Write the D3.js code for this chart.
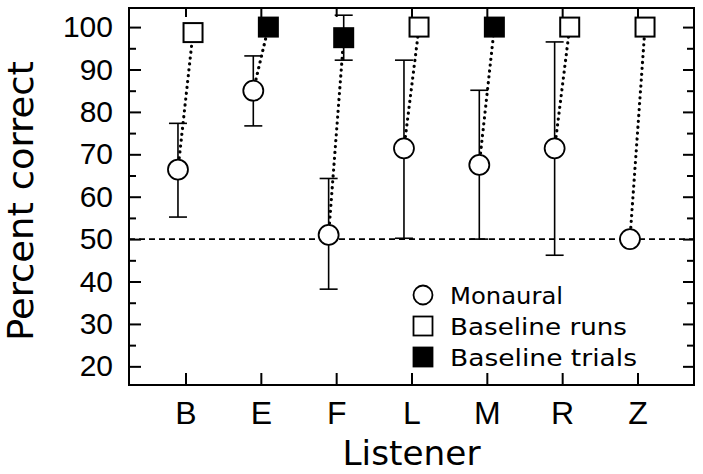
<!DOCTYPE html>
<html>
<head>
<meta charset="utf-8">
<script src="https://cdn.jsdelivr.net/npm/d3@7"></script>
<style>
  body { margin: 0; background: #fff; }
  svg { display: block; font-family: 'DejaVu Sans', sans-serif; }
</style>
</head>
<body>
<div id="chart"></div>
<script>
// Dados
const listeners = ['B', 'E', 'F', 'L', 'M', 'R', 'Z'];
const monaural = [66.4, 85, 51, 71.4, 67.5, 71.4, 50];
const monauralLo = [55.2, 76.7, 38.2, 50.2, 50.0, 46.2, null];
const monauralHi = [77.3, 93.2, 64.3, 92.2, 85.1, 96.5, null];
const baseline = [98.7, 100, 97.5, 100, 100, 100, 100];
const baselineType = ['runs', 'trials', 'trials', 'runs', 'trials', 'runs', 'runs'];
const baselineLo = [null, null, 92.2, null, null, null, null];
const baselineHi = [null, null, 102.8, null, null, null, null];
const yMajor = [20, 30, 40, 50, 60, 70, 80, 90, 100];
const yMinor = [25, 35, 45, 55, 65, 75, 85, 95];
const chanceLevel = 50;
const legendItems = [
  { label: 'Monaural', shape: 'circle', len: 113 },
  { label: 'Baseline runs', shape: 'open', len: 177 },
  { label: 'Baseline trials', shape: 'filled', len: 187 }
];

const W = 703, H = 474;
const plotL = 129, plotR = 694, plotT = 8, plotB = 385;

const svg = d3.select('#chart').append('svg')
  .attr('width', W)
  .attr('height', H);

const x = d3.scaleLinear().domain([-0.75, 6.75]).range([plotL, plotR]);
const y = d3.scaleLinear().domain([15.6, 104.5]).range([plotB, plotT]);
const off = 0.1; // deslocamento horizontal dos marcadores

function styleAxis(g) {
  g.select('.domain').remove();
  g.selectAll('.tick line').attr('stroke', '#000').attr('stroke-width', 2);
}

// Eixo esquerdo (ticks para dentro)
svg.append('g')
  .attr('transform', `translate(${plotL},0)`)
  .call(d3.axisLeft(y).tickValues(yMajor).tickSize(-12).tickPadding(16))
  .call(styleAxis)
  .call(g => g.selectAll('text')
    .attr('fill', '#000')
    .style('font-size', '30px'));

svg.append('g')
  .attr('transform', `translate(${plotL},0)`)
  .call(d3.axisLeft(y).tickValues(yMinor).tickSize(-7).tickFormat(''))
  .call(styleAxis);

// Eixo direito
svg.append('g')
  .attr('transform', `translate(${plotR},0)`)
  .call(d3.axisRight(y).tickValues(yMajor).tickSize(-11).tickFormat(''))
  .call(styleAxis);

svg.append('g')
  .attr('transform', `translate(${plotR},0)`)
  .call(d3.axisRight(y).tickValues(yMinor).tickSize(-7).tickFormat(''))
  .call(styleAxis);

// Eixo inferior
svg.append('g')
  .attr('transform', `translate(0,${plotB})`)
  .call(d3.axisBottom(x).tickValues(d3.range(listeners.length)).tickSize(-12)
    .tickFormat(i => listeners[i]))
  .call(styleAxis)
  .call(g => g.selectAll('text')
    .attr('fill', '#000')
    .attr('dy', null)
    .attr('y', 39)
    .style('font-size', '32px'));

// Eixo superior
svg.append('g')
  .attr('transform', `translate(0,${plotT})`)
  .call(d3.axisTop(x).tickValues(d3.range(listeners.length)).tickSize(-9).tickFormat(''))
  .call(styleAxis);

// Moldura
svg.append('rect')
  .attr('x', plotL)
  .attr('y', plotT)
  .attr('width', plotR - plotL)
  .attr('height', plotB - plotT)
  .attr('fill', 'none')
  .attr('stroke', '#000')
  .attr('stroke-width', 2);

// Linha de chance
svg.append('line')
  .attr('x1', plotL)
  .attr('x2', plotR)
  .attr('y1', y(chanceLevel))
  .attr('y2', y(chanceLevel))
  .attr('stroke', '#000')
  .attr('stroke-width', 1.6)
  .attr('stroke-dasharray', '6,4');

const data = listeners.map((name, i) => ({
  name, i,
  mon: monaural[i], lo: monauralLo[i], hi: monauralHi[i],
  base: baseline[i], type: baselineType[i], bLo: baselineLo[i], bHi: baselineHi[i]
}));

// Barras de erro
function errorBar(cx, lo, hi) {
  const cap = 9;
  svg.append('line')
    .attr('x1', cx).attr('x2', cx)
    .attr('y1', y(lo)).attr('y2', y(hi))
    .attr('stroke', '#000').attr('stroke-width', 1.6);
  [lo, hi].forEach(v => {
    svg.append('line')
      .attr('x1', cx - cap).attr('x2', cx + cap)
      .attr('y1', y(v)).attr('y2', y(v))
      .attr('stroke', '#000').attr('stroke-width', 1.6);
  });
}

data.forEach(d => {
  if (d.lo != null) errorBar(x(d.i - off), d.lo, d.hi);
  if (d.bLo != null) errorBar(x(d.i + off), d.bLo, d.bHi);
});

// Linhas pontilhadas
svg.selectAll('.link')
  .data(data)
  .enter()
  .append('line')
  .attr('class', 'link')
  .attr('x1', d => x(d.i - off))
  .attr('y1', d => y(d.mon))
  .attr('x2', d => x(d.i + off))
  .attr('y2', d => y(d.base))
  .attr('stroke', '#000')
  .attr('stroke-width', 3.2)
  .attr('stroke-linecap', 'round')
  .attr('stroke-dasharray', '0.1,5.8');

// Círculos (monaural)
svg.selectAll('.mon')
  .data(data)
  .enter()
  .append('circle')
  .attr('class', 'mon')
  .attr('cx', d => x(d.i - off))
  .attr('cy', d => y(d.mon))
  .attr('r', 10)
  .attr('fill', '#fff')
  .attr('stroke', '#000')
  .attr('stroke-width', 1.8);

// Quadrados (baseline)
const sq = 19;
svg.selectAll('.base')
  .data(data)
  .enter()
  .append('rect')
  .attr('class', 'base')
  .attr('x', d => x(d.i + off) - sq / 2)
  .attr('y', d => y(d.base) - sq / 2)
  .attr('width', sq)
  .attr('height', sq)
  .attr('fill', d => d.type === 'trials' ? '#000' : '#fff')
  .attr('stroke', '#000')
  .attr('stroke-width', 2);

// Legenda
const legend = svg.append('g').attr('transform', 'translate(423,295)');
legendItems.forEach((item, k) => {
  const gy = k * 31;
  if (item.shape === 'circle') {
    legend.append('circle')
      .attr('cx', 0).attr('cy', gy).attr('r', 9.5)
      .attr('fill', '#fff').attr('stroke', '#000').attr('stroke-width', 1.8);
  } else {
    legend.append('rect')
      .attr('x', -9.5).attr('y', gy - 9.5)
      .attr('width', 19).attr('height', 19)
      .attr('fill', item.shape === 'filled' ? '#000' : '#fff')
      .attr('stroke', '#000').attr('stroke-width', 1.8);
  }
  legend.append('text')
    .attr('x', 27)
    .attr('y', gy + 9)
    .attr('textLength', item.len)
    .attr('lengthAdjust', 'spacingAndGlyphs')
    .style('font-size', '23px')
    .text(item.label);
});

// Títulos dos eixos
svg.append('text')
  .attr('x', (plotL + plotR) / 2)
  .attr('y', 465)
  .attr('text-anchor', 'middle')
  .attr('textLength', 138)
  .attr('lengthAdjust', 'spacingAndGlyphs')
  .style('font-size', '34px')
  .text('Listener');

svg.append('text')
  .attr('transform', 'translate(33,201) rotate(-90)')
  .attr('text-anchor', 'middle')
  .attr('textLength', 280)
  .attr('lengthAdjust', 'spacingAndGlyphs')
  .style('font-size', '35px')
  .text('Percent correct');
</script>
</body>
</html>
